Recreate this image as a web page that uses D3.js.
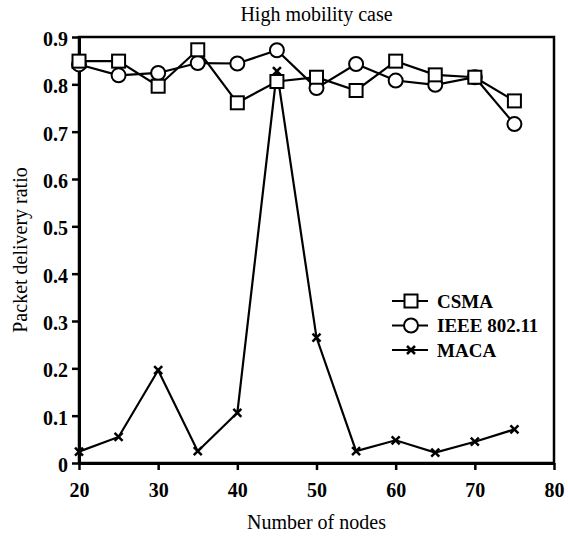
<!DOCTYPE html>
<head>
<meta charset="utf-8">
<style>
	body{
		margin: 0;
		background: white;
	}
	svg{
		display: block;
	}
</style>
</head>
<body>
<script src="https://cdn.jsdelivr.net/npm/d3@7/dist/d3.min.js" charset="utf-8"></script>
<svg width="568" height="540"></svg>
<script>
	// data
	var nodes = [20, 25, 30, 35, 40, 45, 50, 55, 60, 65, 70, 75];
	var csma = [0.849, 0.849, 0.796, 0.873, 0.761, 0.806, 0.815, 0.787, 0.849, 0.820, 0.815, 0.765];
	var ieee = [0.842, 0.819, 0.824, 0.845, 0.844, 0.872, 0.792, 0.843, 0.808, 0.799, 0.815, 0.716];
	var maca = [0.024, 0.055, 0.196, 0.025, 0.106, 0.828, 0.265, 0.025, 0.048, 0.022, 0.045, 0.071];
	var xTicks = [20, 30, 40, 50, 60, 70, 80];
	var yTicks = [0, 0.1, 0.2, 0.3, 0.4, 0.5, 0.6, 0.7, 0.8, 0.9];
	var seriesNames = ["CSMA", "IEEE 802.11", "MACA"];

	var FONT = "'Liberation Serif', 'Times New Roman', Times, serif";
	var svg = d3.select("svg").attr("font-family", FONT);
	var pLeft = 79, pRight = 554, pTop = 37, pBottom = 463;

	var x = d3.scaleLinear().domain([20, 80]).range([pLeft, pRight]);
	var y = d3.scaleLinear().domain([0, 0.9]).range([pBottom, pTop]);

	// frame
	svg.append("rect")
		.attr("x", pLeft).attr("y", pTop)
		.attr("width", pRight - pLeft).attr("height", pBottom - pTop)
		.attr("fill", "none").attr("stroke", "black").attr("stroke-width", 2.5);

	var xAxis = svg.append("g")
		.attr("transform", "translate(0," + pBottom + ")")
		.call(d3.axisBottom(x).tickValues(xTicks).tickSize(7).tickSizeOuter(0).tickFormat(d3.format("d")));
	var yAxis = svg.append("g")
		.attr("transform", "translate(" + pLeft + ",0)")
		.call(d3.axisLeft(y).tickValues(yTicks).tickSize(7).tickSizeOuter(0)
			.tickFormat(function(d){ return d === 0 ? "0" : d3.format(".1f")(d); }));

	[xAxis, yAxis].forEach(function(a){
		a.attr("font-family", FONT).attr("font-size", 20);
		a.select(".domain").attr("stroke-width", 3);
		a.selectAll(".tick line").attr("stroke-width", 2.5);
		a.selectAll("text")
			.attr("font-weight", "bold")
			.attr("fill", "black");
	});
	xAxis.selectAll("text").attr("y", 0).attr("dy", 34);
	yAxis.selectAll("text").attr("x", -11).attr("dy", "0.42em");

	// titles
	svg.append("text")
		.attr("x", (pLeft + pRight) / 2).attr("y", 21)
		.attr("text-anchor", "middle")
		.attr("font-size", 20)
		.text("High mobility case");
	svg.append("text")
		.attr("x", (pLeft + pRight) / 2).attr("y", 529)
		.attr("text-anchor", "middle")
		.attr("font-size", 20)
		.text("Number of nodes");
	svg.append("text")
		.attr("transform", "translate(27," + ((pTop + pBottom) / 2) + ") rotate(-90)")
		.attr("text-anchor", "middle")
		.attr("font-size", 20)
		.text("Packet delivery ratio");

	var line = d3.line()
		.x(function(d){ return x(d[0]); })
		.y(function(d){ return y(d[1]); });

	function drawSeries(vals){
		var pts = nodes.map(function(n, i){ return [n, vals[i]]; });
		svg.append("path")
			.datum(pts)
			.attr("d", line)
			.attr("fill", "none")
			.attr("stroke", "black")
			.attr("stroke-width", 2.2);
		return pts;
	}

	function square(g, cx, cy){
		g.append("rect")
			.attr("x", cx - 6.5).attr("y", cy - 6.5)
			.attr("width", 13).attr("height", 13)
			.attr("fill", "white").attr("stroke", "black").attr("stroke-width", 2);
	}
	function circle(g, cx, cy){
		g.append("circle")
			.attr("cx", cx).attr("cy", cy).attr("r", 7)
			.attr("fill", "white").attr("stroke", "black").attr("stroke-width", 2);
	}
	function cross(g, cx, cy){
		g.append("path")
			.attr("d", "M" + (cx - 4) + "," + (cy - 4) + "L" + (cx + 4) + "," + (cy + 4) +
				"M" + (cx - 4) + "," + (cy + 4) + "L" + (cx + 4) + "," + (cy - 4))
			.attr("stroke", "black").attr("stroke-width", 2.5);
	}

	var pMaca = drawSeries(maca);
	pMaca.forEach(function(p){ cross(svg, x(p[0]), y(p[1])); });
	var pCsma = drawSeries(csma);
	var pIeee = drawSeries(ieee);
	pIeee.forEach(function(p){ circle(svg, x(p[0]), y(p[1])); });
	pCsma.forEach(function(p){ square(svg, x(p[0]), y(p[1])); });

	// legend
	var markers = [square, circle, cross];
	var lg = svg.append("g");
	seriesNames.forEach(function(name, i){
		var ly = 301 + i * 24.5;
		lg.append("line")
			.attr("x1", 392).attr("x2", 428)
			.attr("y1", ly).attr("y2", ly)
			.attr("stroke", "black").attr("stroke-width", 2.2);
		markers[i](lg, 411, ly);
		lg.append("text")
			.attr("x", 437).attr("y", ly + 6.5)
			.attr("font-size", 19)
			.attr("font-weight", "bold")
			.text(name);
	});
</script>
</body>
</html>
